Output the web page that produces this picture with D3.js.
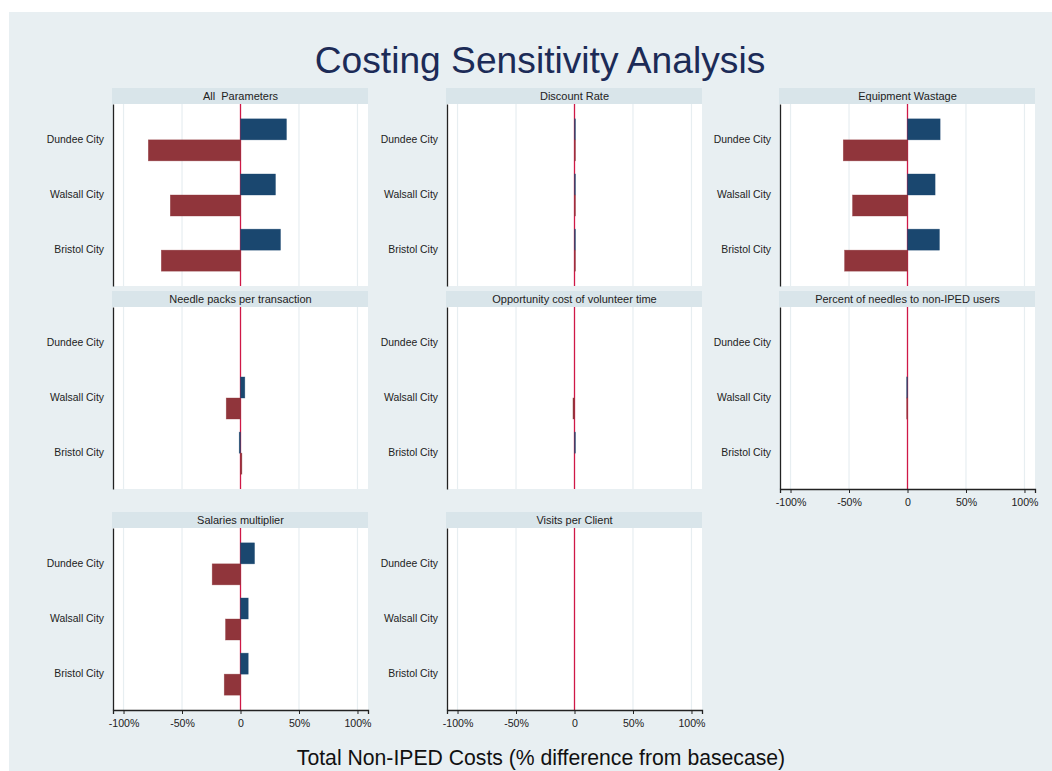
<!DOCTYPE html>
<html>
<head>
<meta charset="utf-8">
<script src="https://cdn.jsdelivr.net/npm/d3@7"></script>
<style>
  html, body { margin: 0; padding: 0; background: #ffffff; }
  svg { display: block; font-family: "Liberation Sans", Arial, Helvetica, sans-serif; }
  text { white-space: pre; }
</style>
</head>
<body>
<svg id="chart" width="1052" height="771"></svg>
<script>
// ---------- data ----------
const chartTitle = "Costing Sensitivity Analysis";
const xAxisTitle = "Total Non-IPED Costs (% difference from basecase)";
const cities = ["Dundee City", "Walsall City", "Bristol City"];
const parameters = [
  "All  Parameters",
  "Discount Rate",
  "Equipment Wastage",
  "Needle packs per transaction",
  "Opportunity cost of volunteer time",
  "Percent of needles to non-IPED users",
  "Salaries multiplier",
  "Visits per Client"
];
// upper (blue) bar values per parameter, in cities order (% difference)
const upperValues = [
  [39.3, 29.9, 34.2],
  [0.8, 0.8, 0.8],
  [27.9, 23.6, 27.3],
  [0, 3.7, -1.1],
  [0, 0, 0.8],
  [0, -0.7, 0],
  [12.0, 6.6, 6.6],
  [0, 0, 0]
];
// lower (red) bar values per parameter, in cities order (% difference)
const lowerValues = [
  [-78.8, -60.0, -67.7],
  [0.8, 0.8, 0.8],
  [-54.9, -47.0, -53.8],
  [0, -12.2, 1.2],
  [0, -1.3, 0],
  [0, -0.7, 0],
  [-24.2, -12.8, -13.9],
  [0, 0, 0]
];
const tickValues = [-100, -50, 0, 50, 100];
const tickLabels = ["-100%", "-50%", "0", "50%", "100%"];
// which panels show an x axis
const showAxis = [false, false, false, false, false, true, true, true];

// ---------- layout ----------
const W = 1052, H = 771;
const colX = [113, 447, 780];
const rowTop = [104, 307, 528];
const plotW = 255, plotH = 182, stripH = 16;
const blue = "#1a476f", red = "#90353b", zeroCol = "#cf1847";

const svg = d3.select("#chart");
svg.append("rect").attr("x", 9).attr("y", 12).attr("width", W - 9).attr("height", H - 12).attr("fill", "#e8eff2");

svg.append("text").attr("x", 540).attr("y", 73).attr("text-anchor", "middle")
  .attr("font-size", 37.2).attr("fill", "#1c2b57").text(chartTitle);

svg.append("text").attr("x", 541).attr("y", 765).attr("text-anchor", "middle")
  .attr("font-size", 21.2).attr("fill", "#111").text(xAxisTitle);

parameters.forEach((p, i) => {
  const col = i % 3, row = Math.floor(i / 3);
  const x0 = colX[col], y0 = rowTop[row];
  const g = svg.append("g");

  const x = d3.scaleLinear().domain([-109, 109]).range([x0, x0 + plotW]);
  const y = d3.scaleBand().domain(cities).range([y0, y0 + plotH]).paddingInner(0).paddingOuter(0.15);
  const sub = d3.scaleBand().domain(["up", "down"]).range([0, 42]);

  // strip
  g.append("rect").attr("x", x0 - 1).attr("y", y0 - stripH).attr("width", plotW + 1).attr("height", stripH).attr("fill", "#d9e5ea");
  g.append("text").attr("x", x0 + plotW / 2).attr("y", y0 - 4).attr("text-anchor", "middle")
    .attr("font-size", 11).attr("fill", "#222").text(p);

  // plot region
  g.append("rect").attr("x", x0).attr("y", y0).attr("width", plotW).attr("height", plotH).attr("fill", "#ffffff");

  // grid
  g.selectAll(".grid").data(tickValues.filter(v => v !== 0)).enter().append("line")
    .attr("x1", d => x(d)).attr("x2", d => x(d)).attr("y1", y0).attr("y2", y0 + plotH)
    .attr("stroke", "#e7eef1").attr("stroke-width", 1.2);

  // zero line
  g.append("line").attr("x1", x(0)).attr("x2", x(0)).attr("y1", y0).attr("y2", y0 + plotH)
    .attr("stroke", zeroCol).attr("stroke-width", 1.3);

  // bars
  const rows = cities.map((c, k) => ({ city: c, up: upperValues[i][k], down: lowerValues[i][k] }));
  rows.forEach(r => {
    const cy = y(r.city) + y.bandwidth() / 2 - 21;
    [["up", r.up, blue], ["down", r.down, red]].forEach(([key, v, col]) => {
      if (v === 0) return;
      g.append("rect")
        .attr("x", Math.min(x(0), x(v)))
        .attr("y", cy + sub(key))
        .attr("width", Math.abs(x(v) - x(0)))
        .attr("height", sub.bandwidth())
        .attr("fill", col)
        .attr("stroke", col).attr("stroke-opacity", 0.6).attr("stroke-width", 0.6);
    });
  });

  // y axis (category labels, no ticks)
  const yAxis = d3.axisLeft(y).tickSize(0).tickPadding(9);
  const ya = g.append("g").attr("transform", `translate(${x0},0)`).call(yAxis);
  ya.select(".domain").attr("stroke", "#222").attr("stroke-width", 1.3);
  ya.selectAll("text").attr("font-size", 10.4).attr("fill", "#222").attr("font-family", "Liberation Sans, Arial, sans-serif");

  if (showAxis[i]) {
    const xAxis = d3.axisBottom(x).tickValues(tickValues).tickFormat((d, k) => tickLabels[k]).tickSizeOuter(0).tickSize(4).tickPadding(5);
    const xa = g.append("g").attr("transform", `translate(0,${y0 + plotH})`).call(xAxis);
    xa.select(".domain").attr("stroke", "#222").attr("stroke-width", 1.3);
    xa.selectAll(".tick line").attr("stroke", "#222");
    xa.selectAll("text").attr("font-size", 10.6).attr("fill", "#222").attr("font-family", "Liberation Sans, Arial, sans-serif");
  }
});
</script>
</body>
</html>
